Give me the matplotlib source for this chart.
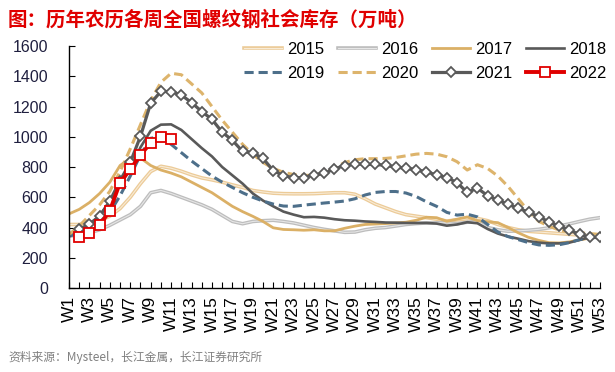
import numpy as np
import matplotlib
matplotlib.use("Agg")
import matplotlib.pyplot as plt
import matplotlib.patheffects as pe

plt.rcParams['font.family'] = ['Liberation Sans', 'Noto Sans CJK SC', 'DejaVu Sans']

nan = np.nan
weeks = [f"W{i}" for i in range(1, 54)]

# 农历周 W1..W53 社会库存（万吨）
y2015 = [420, 420, 428, 445, 475, 525, 600, 690, 770, 805, 792, 772, 748, 728, 715, 700, 682, 665, 645,
         635, 627, 624, 623, 623, 624, 627, 630, 630, 620, 590, 555, 530, 505, 485, 475, 465, 455, 443,
         450, 458, 460, 445, 420, 400, 385, 375, 370, 365, 360, 355, 350, 345, nan]
y2016 = [343, 350, 365, 385, 415, 450, 485, 540, 630, 645, 625, 600, 575, 550, 520, 480, 440, 425, 440,
         445, 448, 440, 430, 415, 400, 388, 378, 368, 370, 385, 395, 400, 410, 420, 426, 430, 431, 431,
         425, 435, 440, 400, 385, 375, 378, 382, 388, 398, 410, 424, 440, 455, 465]
y2017 = [490, 520, 565, 625, 700, 810, 858, 860, 810, 780, 760, 735, 700, 665, 630, 585, 540, 505, 474,
         440, 398, 387, 385, 382, 385, 378, 378, 395, 409, 420, 423, 426, 430, 435, 448, 468, 465, 441,
         455, 470, 445, 438, 432, 400, 365, 335, 315, 300, 298, 305, 318, 330, nan]
y2018 = [345, 375, 415, 480, 570, 680, 790, 930, 1040, 1080, 1082, 1045, 985, 925, 870, 800, 745, 690,
         625, 578, 540, 505, 485, 468, 470, 465, 455, 448, 445, 440, 437, 433, 432, 430, 430, 430, 426,
         412, 420, 435, 428, 390, 360, 340, 326, 310, 300, 295, 295, 300, 318, 335, nan]
y2019 = [343, 360, 385, 430, 500, 610, 740, 880, 990, 1000, 950, 895, 840, 790, 740, 700, 665, 630,
         600, 575, 555, 542, 540, 548, 555, 562, 568, 575, 590, 615, 632, 638, 638, 628, 605, 570, 540,
         500, 482, 488, 470, 420, 370, 340, 320, 300, 285, 282, 286, 300, 320, 330, nan]
y2020 = [354, 410, 480, 550, 640, 770, 920, 1080, 1240, 1360, 1420, 1410, 1350, 1290, 1200, 1110, 1030,
         950, 885, 830, 791, 765, 750, 745, 745, 760, 795, 830, 848, 855, 855, 857, 863, 874, 885, 890,
         885, 868, 835, 780, 815, 790, 740, 671, 590, 507, 441, 409, 383, 369, 365, 360, 354]
y2021 = [nan, 387, 424, 474, 575, 710, 830, 1003, 1222, 1300, 1298, 1276, 1226, 1167, 1115, 1030, 977,
         903, 894, 857, 776, 743, 730, 730, 748, 758, 788, 809, 822, 817, 817, 811, 800, 791, 783, 767,
         748, 730, 697, 632, 660, 610, 581, 553, 527, 501, 472, 437, 409, 383, 354, 334, 334]
y2022 = [nan, 339, 365, 415, 511, 697, 785, 879, 960, 999, 986] + [nan] * 42

x = np.arange(len(weeks))

fig = plt.figure(figsize=(6.15, 3.72), dpi=100)
ax = fig.add_axes([0.1122, 0.2258, 0.8634, 0.6505])

def dbl(c_out, c_in):
    return [pe.Stroke(linewidth=2.6, foreground=c_out), pe.Stroke(linewidth=0.8, foreground=c_in)]

l15, = ax.plot(x, y2015, color="#ECCB98", lw=2.2, label="2015", path_effects=dbl("#ECCB98", "#F8EBD6"))
l16, = ax.plot(x, y2016, color="#BDBDBD", lw=2.2, label="2016", path_effects=dbl("#BDBDBD", "#E6E6E6"))
l17, = ax.plot(x, y2017, color="#DBB066", lw=2.0, label="2017")
l18, = ax.plot(x, y2018, color="#595959", lw=1.9, label="2018")
l19, = ax.plot(x, y2019, color="#4D6F8A", lw=2.2, ls=(0, (3, 1.6)), label="2019")
l20, = ax.plot(x, y2020, color="#DDB46C", lw=2.2, ls=(0, (3, 1.6)), label="2020")
l21, = ax.plot(x, y2021, color="#595959", lw=2.3, marker="D", ms=4.8, mfc="white", mec="#595959",
               mew=1.3, label="2021")
l22, = ax.plot(x, y2022, color="#E00000", lw=2.8, marker="s", ms=7.5, mfc="white", mec="#E00000",
               mew=1.3, label="2022")

ax.set_xlim(0, 52)
ax.set_ylim(0, 1600)
ax.set_yticks(np.arange(0, 1601, 200))
ax.set_xticks(x)
ax.set_xticklabels([w if i % 2 == 0 else "" for i, w in enumerate(weeks)], rotation=90, fontsize=12.5)
ax.tick_params(axis="x", direction="in", length=4, width=0.8, pad=6)
ax.tick_params(axis="y", direction="in", length=4, width=0.8, pad=15, labelsize=11.5, labelcolor="#1F1F3F")
for s in ["top", "right"]:
    ax.spines[s].set_visible(False)
for s in ["left", "bottom"]:
    ax.spines[s].set_linewidth(1.0)
    ax.spines[s].set_color("black")

hs = [l15, l19, l16, l20, l17, l21, l18, l22]
ax.legend(handles=hs, ncol=4, loc="upper right", bbox_to_anchor=(1.025, 1.045), frameon=False,
          fontsize=12, handlelength=2.3, handletextpad=0.3, columnspacing=0.8, labelspacing=0.55,
          borderaxespad=0)

fig.text(0.013, 0.948, "图：历年农历各周全国螺纹钢社会库存（万吨）", color="#E00000", fontsize=14,
         fontweight="bold", va="center", ha="left", family=["Noto Sans CJK SC"])
fig.text(0.013, 0.04, "资料来源：Mysteel，长江金属，长江证券研究所", color="#808080", fontsize=8.5,
         va="center", ha="left", family=["Noto Sans CJK SC"])

fig.savefig("out.png", dpi=100)
